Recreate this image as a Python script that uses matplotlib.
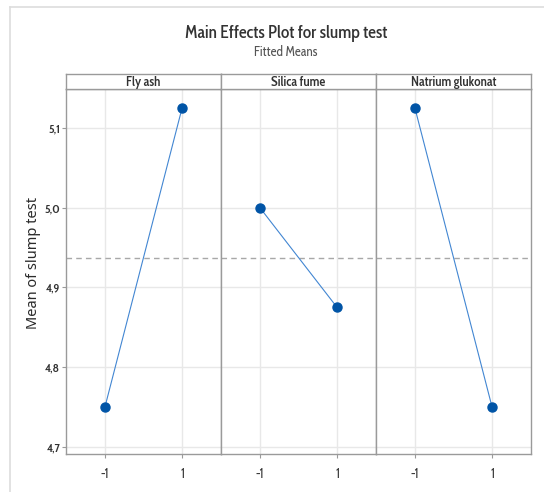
import matplotlib
matplotlib.use("Agg")
import matplotlib.pyplot as plt
from matplotlib import font_manager
from matplotlib.lines import Line2D

# Fitted means per factor level
factors = ["Fly ash", "Silica fume", "Natrium glukonat"]
levels = [-1, 1]
level_labels = ["-1", "1"]
means = [
    [4.75, 5.125],
    [5.0, 4.875],
    [5.125, 4.75],
]
grand_mean = 4.9375
y_ticks = [4.7, 4.8, 4.9, 5.0, 5.1]
y_tick_labels = ["4,7", "4,8", "4,9", "5,0", "5,1"]

# pick a narrow humanist face close to the original Segoe UI look
installed = {f.name for f in font_manager.fontManager.ttflist}
prefs = ["Cabin Condensed", "Asap Condensed", "Archivo Narrow",
         "Liberation Sans Narrow", "Roboto"]
narrow = next((p for p in prefs if p in installed), "DejaVu Sans")
plt.rcParams["font.family"] = [narrow, "DejaVu Sans"]

TEXT = "#333333"
SPINE = "#9a9a9a"
GRID = "#e8e8e8"
MARKER = "#0054a6"
LINE = "#4286d2"

W, H = 544, 492
fig = plt.figure(figsize=(W / 100, H / 100), dpi=100)

# faint outer frame of the original graph window
fig.add_artist(Line2D([10 / W, 1], [1 - 7 / H, 1 - 7 / H], color="#dddddd", lw=1.2,
                      transform=fig.transFigure))
fig.add_artist(Line2D([10 / W, 10 / W], [0, 1 - 7 / H], color="#dddddd", lw=1.2,
                      transform=fig.transFigure))

fig.text(286 / W, 1 - 33 / H, "Main Effects Plot for slump test", ha="center", va="center",
         fontsize=12.5, color=TEXT, fontweight="medium")
fig.text(286 / W, 1 - 52 / H, "Fitted Means", ha="center", va="center",
         fontsize=9.5, color="#555555")

left = 66 / W
pw = 155 / W
bottom = 1 - 454 / H
ph = (454 - 89) / H
sh = 15 / H

for i, (name, vals) in enumerate(zip(factors, means)):
    ax = fig.add_axes([left + i * pw, bottom, pw, ph])
    ax.set_xlim(-2.01, 2.01)
    ax.set_ylim(4.691, 5.149)
    ax.set_xticks(levels)
    ax.set_xticklabels(level_labels)
    ax.set_yticks(y_ticks)
    ax.grid(True, color=GRID, lw=1.0)
    ax.set_axisbelow(True)
    ax.axhline(grand_mean, color="#a8a8a8", lw=1.0, ls=(0, (4, 3)), zorder=1)
    ax.plot(levels, vals, color=LINE, lw=0.8, zorder=2)
    ax.plot(levels, vals, "o", color=MARKER, ms=6.5, zorder=3)
    for s in ax.spines.values():
        s.set_color(SPINE)
        s.set_linewidth(1.0)
    ax.tick_params(axis="x", colors=SPINE, labelcolor=TEXT, labelsize=9.5, length=3, pad=6)
    ax.tick_params(axis="y", colors=SPINE, labelcolor=TEXT, labelsize=9, length=3, pad=1)
    if i == 0:
        ax.set_yticklabels(y_tick_labels, fontweight="semibold")
        ax.set_ylabel("Mean of slump test", fontsize=10.5, color="#2a2a2a",
                      family=["Noto Sans", "DejaVu Sans"], fontweight="medium")
        ax.yaxis.set_label_coords(-25 / 155, (454 - 263) / 365)
    else:
        ax.tick_params(axis="y", length=0, labelleft=False)

    sax = fig.add_axes([left + i * pw, bottom + ph, pw, sh])
    sax.set_xticks([])
    sax.set_yticks([])
    for s in sax.spines.values():
        s.set_color(SPINE)
        s.set_linewidth(1.0)
    sax.text(0.5, 0.45, name, ha="center", va="center", fontsize=9.5,
             color=TEXT, fontweight="semibold", transform=sax.transAxes)

fig.savefig("out.png", dpi=100)
